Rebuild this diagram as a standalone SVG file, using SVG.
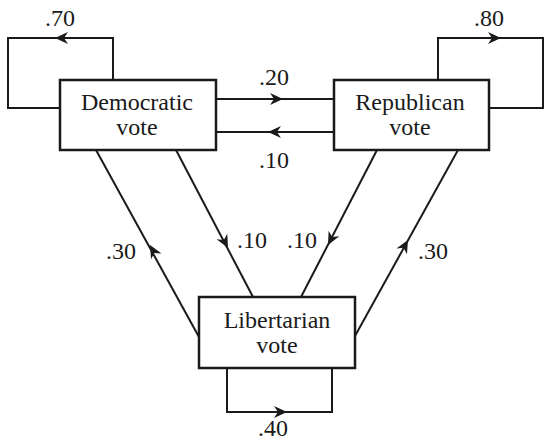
<svg xmlns="http://www.w3.org/2000/svg" xmlns:xlink="http://www.w3.org/1999/xlink" width="546" height="442" viewBox="0 0 546 442">
<style>
.box{fill:#fff;stroke:#1a1a1a;stroke-width:2.5}
.ln{fill:none;stroke:#1a1a1a;stroke-width:2}
.t{font-family:"Liberation Serif","Times New Roman",serif;font-size:24px;fill:#1a1a1a}
.c{text-anchor:middle}
.ah{fill:#1a1a1a}
</style>
<defs>
<path id="ah" d="M0,0 L-13,-6 L-9,0 L-13,6 Z"/>
</defs>
<rect width="546" height="442" fill="#fff"/>
<g id="connectors">
<path class="ln" d="M113,80 V38 H8 V108 H60"/>
<path class="ln" d="M438,80 V38 H543 V108 H489"/>
<path class="ln" d="M227,368 V412 H332 V368"/>
<path class="ln" d="M216,99 H334"/>
<path class="ln" d="M216,132 H334"/>
<path class="ln" d="M96,150 L199,337"/>
<path class="ln" d="M176,150 L253,297"/>
<path class="ln" d="M377,150 L301,297"/>
<path class="ln" d="M458,150 L355,336"/>
<use class="ah" xlink:href="#ah" transform="translate(55,38) rotate(180)"/>
<use class="ah" xlink:href="#ah" transform="translate(501,38)"/>
<use class="ah" xlink:href="#ah" transform="translate(287,412)"/>
<use class="ah" xlink:href="#ah" transform="translate(283,99)"/>
<use class="ah" xlink:href="#ah" transform="translate(268,132) rotate(180)"/>
<use class="ah" xlink:href="#ah" transform="translate(150,245) rotate(-118.85)"/>
<use class="ah" xlink:href="#ah" transform="translate(228,248) rotate(62.35)"/>
<use class="ah" xlink:href="#ah" transform="translate(328,245) rotate(117.3)"/>
<use class="ah" xlink:href="#ah" transform="translate(408,240) rotate(-61)"/>
<text class="t c" x="60" y="26">.70</text>
<text class="t c" x="489" y="26">.80</text>
<text class="t c" x="274" y="85">.20</text>
<text class="t c" x="274" y="168">.10</text>
<text class="t c" x="121" y="259">.30</text>
<text class="t" x="237" y="248">.10</text>
<text class="t" x="317" y="248" text-anchor="end">.10</text>
<text class="t" x="418" y="259">.30</text>
<text class="t c" x="273" y="436">.40</text>
</g>
<g id="democratic">
<rect class="box" x="60" y="80" width="156" height="70"/>
<text class="t c" x="137" y="110">Democratic</text>
<text class="t c" x="137" y="135">vote</text>
</g>
<g id="republican">
<rect class="box" x="334" y="80" width="155" height="70"/>
<text class="t c" x="410" y="110">Republican</text>
<text class="t c" x="410" y="135">vote</text>
</g>
<g id="libertarian">
<rect class="box" x="199" y="297" width="156" height="71"/>
<text class="t c" x="277" y="328">Libertarian</text>
<text class="t c" x="277" y="353">vote</text>
</g>
</svg>
